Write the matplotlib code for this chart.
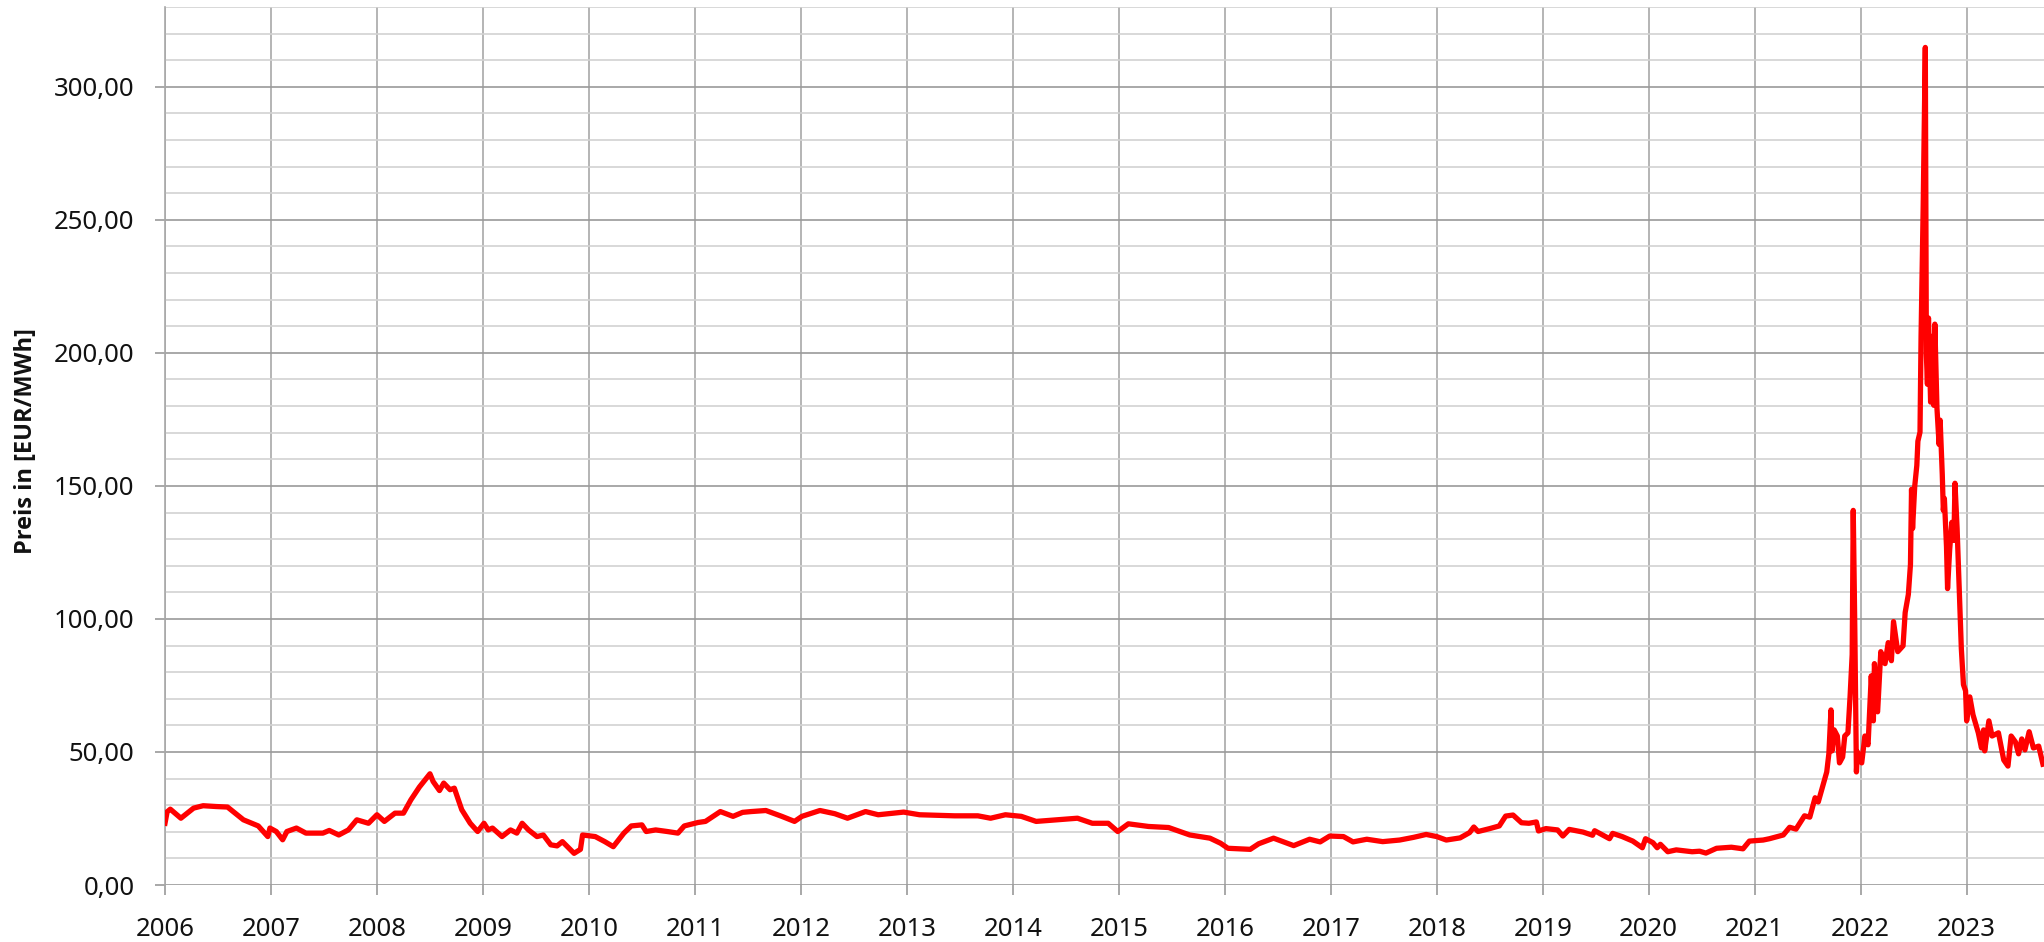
import matplotlib.pyplot as plt
from matplotlib.ticker import MultipleLocator, FixedLocator

plt.rcParams['font.family'] = ['Noto Sans', 'DejaVu Sans']

# Zeitachse als Dezimaljahr, Preis in EUR/MWh
years = [
    2006.00, 2006.02, 2006.05, 2006.15, 2006.27, 2006.36, 2006.48, 2006.59, 2006.74, 2006.88,
    2006.97, 2006.99, 2007.05, 2007.11, 2007.15, 2007.24, 2007.33, 2007.49, 2007.55, 2007.64,
    2007.73, 2007.81, 2007.92, 2008.00, 2008.07, 2008.17, 2008.25, 2008.32, 2008.40, 2008.50,
    2008.53, 2008.59, 2008.63, 2008.69, 2008.73, 2008.80, 2008.88, 2008.95, 2009.01, 2009.05,
    2009.09, 2009.18, 2009.26, 2009.32, 2009.37, 2009.43, 2009.51, 2009.57, 2009.64, 2009.70,
    2009.75, 2009.86, 2009.92, 2009.94, 2010.06, 2010.15, 2010.23, 2010.33, 2010.40, 2010.50,
    2010.54, 2010.63, 2010.74, 2010.84, 2010.90, 2011.03, 2011.10, 2011.24, 2011.36, 2011.45,
    2011.53, 2011.67, 2011.82, 2011.94, 2012.01, 2012.18, 2012.32, 2012.44, 2012.61, 2012.73,
    2012.97, 2013.12, 2013.45, 2013.67, 2013.79, 2013.93, 2014.08, 2014.22, 2014.42, 2014.61,
    2014.75, 2014.90, 2014.99, 2015.09, 2015.28, 2015.47, 2015.67, 2015.86, 2015.96, 2016.03,
    2016.24, 2016.32, 2016.46, 2016.65, 2016.80, 2016.90, 2016.99, 2017.12, 2017.21, 2017.34,
    2017.49, 2017.65, 2017.78, 2017.90, 2018.00, 2018.09, 2018.22, 2018.31, 2018.35, 2018.39,
    2018.50, 2018.59, 2018.65, 2018.72, 2018.80, 2018.87, 2018.94, 2018.96, 2019.03, 2019.14,
    2019.19, 2019.25, 2019.38, 2019.47, 2019.49, 2019.63, 2019.66, 2019.75, 2019.85, 2019.94,
    2019.97, 2020.04, 2020.08, 2020.11, 2020.18, 2020.26, 2020.41, 2020.48, 2020.54, 2020.64,
    2020.78, 2020.89, 2020.95, 2021.08, 2021.14, 2021.27, 2021.33, 2021.39, 2021.47, 2021.52,
    2021.57, 2021.60, 2021.64, 2021.68, 2021.70, 2021.72, 2021.73, 2021.75, 2021.78, 2021.80,
    2021.83, 2021.85, 2021.88, 2021.90, 2021.92, 2021.93, 2021.945, 2021.96, 2021.97, 2022.01,
    2022.04, 2022.07, 2022.10, 2022.12, 2022.13, 2022.16, 2022.19, 2022.23, 2022.26, 2022.29,
    2022.31, 2022.35, 2022.40, 2022.42, 2022.45, 2022.47, 2022.48, 2022.49, 2022.51, 2022.53,
    2022.54, 2022.56, 2022.57, 2022.59, 2022.61, 2022.62, 2022.63, 2022.64, 2022.66, 2022.68,
    2022.69, 2022.70, 2022.72, 2022.74, 2022.75, 2022.77, 2022.78, 2022.79, 2022.81, 2022.82,
    2022.84, 2022.86, 2022.88, 2022.89, 2022.91, 2022.95, 2022.97, 2022.99, 2023.00, 2023.03,
    2023.06, 2023.11, 2023.14, 2023.16, 2023.17, 2023.21, 2023.24, 2023.30, 2023.35, 2023.39,
    2023.42, 2023.46, 2023.49, 2023.52, 2023.55, 2023.59, 2023.63, 2023.68, 2023.72,
]
prices = [
    23.2, 27.5, 28.5, 25.1, 28.9, 29.8, 29.5, 29.3, 24.5, 22.2,
    18.2, 21.4, 20.1, 17.0, 20.1, 21.4, 19.5, 19.5, 20.5, 18.8,
    20.7, 24.5, 23.2, 26.4, 23.9, 27.0, 27.0, 32.0, 36.8, 41.8,
    38.9, 35.5, 38.3, 35.8, 36.4, 28.3, 23.2, 20.1, 23.2, 20.7,
    21.4, 18.2, 20.7, 19.5, 23.2, 20.7, 18.2, 18.8, 15.1, 14.7,
    16.3, 11.9, 13.4, 18.8, 18.2, 16.3, 14.4, 19.5, 22.2, 22.6,
    20.1, 20.7, 20.1, 19.5, 22.2, 23.5, 23.9, 27.6, 25.8, 27.3,
    27.6, 28.0, 25.8, 23.9, 25.8, 28.0, 26.8, 25.1, 27.6, 26.4,
    27.4, 26.4, 26.0, 26.0, 25.1, 26.4, 25.8, 23.9, 24.5, 25.1,
    23.2, 23.2, 20.1, 23.0, 22.0, 21.6, 18.8, 17.6, 15.7, 13.8,
    13.4, 15.5, 17.6, 14.8, 17.2, 16.2, 18.4, 18.2, 16.2, 17.2,
    16.3, 16.9, 17.9, 19.0, 18.2, 16.9, 17.7, 19.7, 21.8, 20.1,
    21.2, 22.2, 25.9, 26.3, 23.4, 23.2, 23.7, 20.3, 21.2, 20.7,
    18.4, 20.9, 19.9, 18.7, 20.4, 17.4, 19.4, 18.2, 16.5, 14.0,
    17.4, 15.9, 14.0, 15.3, 12.5, 13.2, 12.5, 12.7, 12.0, 13.8,
    14.2, 13.6, 16.5, 16.9, 17.4, 18.8, 21.7, 21.0, 26.0, 25.5,
    32.8, 31.2, 36.8, 42.5, 49.3, 65.8, 50.4, 58.3, 56.0, 45.9,
    48.1, 56.0, 57.2, 70.7, 86.6, 140.8, 95.6, 42.5, 50.0, 45.9,
    56.0, 52.7, 78.6, 61.7, 83.2, 65.1, 87.7, 83.2, 91.1, 84.3,
    99.0, 87.7, 89.9, 102.4, 109.2, 120.5, 148.7, 134.0, 149.8, 157.7,
    166.8, 170.2, 206.3, 254.9, 314.8, 199.5, 188.2, 213.1, 181.5, 206.3,
    180.3, 210.8, 179.2, 165.6, 174.7, 154.4, 140.8, 145.3, 127.2, 111.4,
    126.1, 136.3, 129.5, 151.0, 134.0, 88.8, 75.3, 73.0, 61.7, 70.7,
    64.0, 57.2, 51.5, 58.3, 50.4, 61.7, 56.0, 57.2, 47.0, 44.7,
    56.0, 53.8, 49.3, 54.9, 50.8, 57.6, 51.5, 52.2, 45.4,
]

xtick_years = list(range(2006, 2024))
ytick_values = [0, 50, 100, 150, 200, 250, 300]
ytick_labels = ['0,00', '50,00', '100,00', '150,00', '200,00', '250,00', '300,00']

fig = plt.figure(figsize=(20.44, 9.42), dpi=100)
ax = fig.add_axes([165 / 2044, 1 - 885 / 942, 1 - 165 / 2044, (885 - 7) / 942])

ax.plot(years, prices, color='#ff0000', linewidth=3.8, solid_joinstyle='round', zorder=3)

ax.set_xlim(2006, 2023.73)
ax.set_ylim(0, 330)

ax.xaxis.set_major_locator(FixedLocator(xtick_years))
ax.set_xticklabels([str(y) for y in xtick_years])
ax.yaxis.set_major_locator(FixedLocator(ytick_values))
ax.set_yticklabels(ytick_labels)
ax.yaxis.set_minor_locator(MultipleLocator(10))

ax.grid(which='major', axis='y', color='#9a9a9a', linewidth=1.2)
ax.grid(which='minor', axis='y', color='#d2d2d2', linewidth=1.2)
ax.grid(which='major', axis='x', color='#a8a8a8', linewidth=1.2)

for side in ['top', 'right', 'bottom']:
    ax.spines[side].set_visible(False)
ax.spines['left'].set_color('#a8a8a8')
ax.spines['left'].set_linewidth(1.2)

ax.tick_params(axis='both', which='major', length=7, width=1.2, color='#9a9a9a',
               labelsize=18.5, labelcolor='#111111')
ax.tick_params(axis='y', which='major', pad=15)
ax.tick_params(axis='x', which='major', pad=16)
ax.tick_params(which='minor', length=0)

fig.text(26 / 2044, 1 - 441 / 942, 'Preis in [EUR/MWh]', rotation=90, fontsize=17,
         fontweight='bold', family=['Open Sans', 'DejaVu Sans'],
         ha='center', va='center', color='#111111')

fig.savefig('out.png', dpi=100)
